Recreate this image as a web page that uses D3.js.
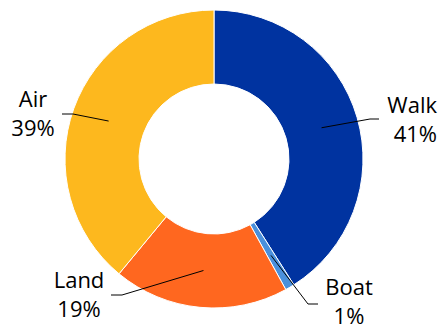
<!DOCTYPE html>
<html>
<head>
<meta charset="utf-8">
<script src="https://cdn.jsdelivr.net/npm/d3@7"></script>
<style>
  html, body { margin: 0; padding: 0; background: #fff; }
  svg { display: block; }
  text { font-family: "Open Sans", "Noto Sans", sans-serif; font-size: 22px; fill: #000; }
</style>
</head>
<body>
<svg id="chart" width="439" height="329"></svg>
<script>
// Share of travel by mode, clockwise from 12 o'clock
const categories = ["Walk", "Boat", "Land", "Air"];
const shares = [41, 1, 19, 39];
const percentLabels = ["41%", "1%", "19%", "39%"];
const colors = ["#0033A0", "#4A90DC", "#FF671F", "#FDB81E"];

// Label placement relative to the donut centre: elbow of the leader,
// end of its short horizontal run, and where the two text lines sit.
const labelLayout = [
  { elbow: [156, -40], tail: [165, -40], text: [223, -46], anchor: "end" },
  { elbow: [94, 145],  tail: [104, 145], text: [135, 136], anchor: "middle" },
  { elbow: [-92, 136], tail: [-103, 136], text: [-135, 129], anchor: "middle" },
  { elbow: [-141, -45], tail: [-152, -45], text: [-181, -52], anchor: "middle" }
];

const width = 439, height = 329;
const cx = 214, cy = 159;
const outerR = 149, innerR = 75;

const svg = d3.select("#chart");
const g = svg.append("g").attr("transform", `translate(${cx},${cy})`);

const data = categories.map((c, i) => ({ name: c, value: shares[i], label: percentLabels[i], color: colors[i], layout: labelLayout[i] }));

const pie = d3.pie().value(d => d.value).sort(null);
const arc = d3.arc().innerRadius(innerR).outerRadius(outerR);
const arcs = pie(data);

g.selectAll("path.slice")
  .data(arcs)
  .join("path")
  .attr("class", "slice")
  .attr("d", arc)
  .attr("fill", d => d.data.color)
  .attr("stroke", "#fff")
  .attr("stroke-width", 1);

// Leader lines from each slice centroid out to its label
g.selectAll("polyline.leader")
  .data(arcs)
  .join("polyline")
  .attr("class", "leader")
  .attr("fill", "none")
  .attr("stroke", "#000")
  .attr("stroke-width", 1)
  .attr("points", d => {
    const c = arc.centroid(d);
    const L = d.data.layout;
    return [c, L.elbow, L.tail].map(p => p.join(",")).join(" ");
  });

const labels = g.selectAll("text.label")
  .data(arcs)
  .join("text")
  .attr("class", "label")
  .attr("text-anchor", d => d.data.layout.anchor)
  .attr("x", d => d.data.layout.text[0])
  .attr("y", d => d.data.layout.text[1]);

labels.append("tspan")
  .attr("x", d => d.data.layout.text[0])
  .text(d => d.data.name);
labels.append("tspan")
  .attr("x", d => d.data.layout.text[0])
  .attr("dy", 29)
  .text(d => d.data.label);
</script>
</body>
</html>
